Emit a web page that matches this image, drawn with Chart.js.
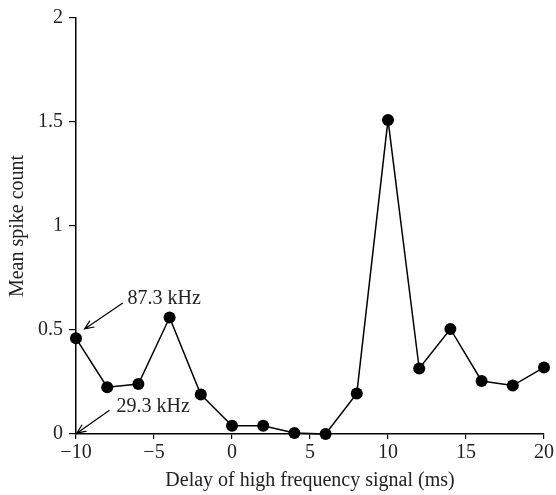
<!DOCTYPE html>
<html>
<head>
<meta charset="utf-8">
<script src="https://cdn.jsdelivr.net/npm/chart.js@4/dist/chart.umd.min.js"></script>
<style>
  html, body { margin: 0; padding: 0; background: #fff; }
  #wrap { width: 556px; height: 495px; }
</style>
</head>
<body>
<div id="wrap"><canvas id="chart" width="556" height="495"></canvas></div>
<script>
// Delay of high frequency signal (ms)
const delays = [-10, -8, -6, -4, -2, 0, 2, 4, 6, 8, 10, 12, 14, 16, 18, 20];
// Mean spike count
const spikeCounts = [0.46, 0.225, 0.24, 0.56, 0.19, 0.04, 0.04, 0.005, 0.0, 0.195, 1.51, 0.315, 0.505, 0.255, 0.233, 0.32];

// annotation labels with arrow (text pos, arrow start, arrow tip) in data units
const noteLabels = ['87.3 kHz', '29.3 kHz'];
const noteText = [[-6.7, 0.648], [-7.4, 0.129]];
const noteFrom = [[-7.0, 0.63], [-7.85, 0.114]];
const noteTo = [[-9.45, 0.505], [-9.95, 0.004]];

const FONT = "'Liberation Serif', 'DejaVu Serif', serif";
const FSIZE = 20;

const points = delays.map((d, i) => ({ x: d, y: spikeCounts[i] }));

// plugin vẽ chú thích mũi tên
const notesPlugin = {
  id: 'notes',
  afterDatasetsDraw(chart) {
    const ctx = chart.ctx;
    const xs = chart.scales.x, ys = chart.scales.y;
    ctx.save();
    ctx.font = FSIZE + 'px ' + FONT;
    ctx.fillStyle = '#222';
    ctx.strokeStyle = '#000';
    ctx.lineWidth = 1.2;
    ctx.textBaseline = 'middle';
    ctx.textAlign = 'left';
    noteLabels.forEach((label, i) => {
      ctx.fillText(label, xs.getPixelForValue(noteText[i][0]), ys.getPixelForValue(noteText[i][1]));
      const x1 = xs.getPixelForValue(noteFrom[i][0]), y1 = ys.getPixelForValue(noteFrom[i][1]);
      const x2 = xs.getPixelForValue(noteTo[i][0]), y2 = ys.getPixelForValue(noteTo[i][1]);
      ctx.beginPath();
      ctx.moveTo(x1, y1);
      ctx.lineTo(x2, y2);
      const ang = Math.atan2(y2 - y1, x2 - x1);
      const head = 10, spread = 0.4;
      ctx.moveTo(x2 - head * Math.cos(ang - spread), y2 - head * Math.sin(ang - spread));
      ctx.lineTo(x2, y2);
      ctx.lineTo(x2 - head * Math.cos(ang + spread), y2 - head * Math.sin(ang + spread));
      ctx.stroke();
    });
    ctx.restore();
  }
};

new Chart(document.getElementById('chart').getContext('2d'), {
  type: 'line',
  data: {
    datasets: [{
      data: points,
      borderColor: '#000',
      backgroundColor: '#000',
      borderWidth: 1.5,
      pointRadius: 6,
      pointBackgroundColor: '#000',
      pointBorderWidth: 0,
      tension: 0,
      clip: false
    }]
  },
  options: {
    responsive: false,
    animation: false,
    layout: { padding: { left: 0, right: 9, top: 14, bottom: 0 } },
    plugins: {
      legend: { display: false },
      tooltip: { enabled: false }
    },
    scales: {
      x: {
        type: 'linear',
        min: -10,
        max: 20,
        afterFit(scale) { scale.height = 61; },
        grid: { display: true, drawOnChartArea: false, drawTicks: true, tickLength: 5, color: '#000', lineWidth: 1.2 },
        border: { display: true, color: '#000', width: 1.5 },
        ticks: {
          stepSize: 5,
          color: '#222',
          font: { family: FONT, size: FSIZE },
          padding: 2,
          maxRotation: 0,
          callback: v => String(v).replace('-', '\u2212')
        },
        title: {
          display: true,
          text: 'Delay of high frequency signal (ms)',
          color: '#222',
          font: { family: FONT, size: FSIZE },
          padding: { top: 0, bottom: 2 }
        }
      },
      y: {
        min: 0,
        max: 2,
        afterFit(scale) { scale.width = 76; },
        grid: { display: true, drawOnChartArea: false, drawTicks: true, tickLength: 7, color: '#000', lineWidth: 1.2 },
        border: { display: true, color: '#000', width: 1.5 },
        ticks: {
          stepSize: 0.5,
          color: '#222',
          font: { family: FONT, size: FSIZE },
          padding: 6,
          callback: v => String(v)
        },
        title: {
          display: true,
          text: 'Mean spike count',
          color: '#222',
          font: { family: FONT, size: FSIZE },
          padding: { top: 6, bottom: 0 }
        }
      }
    }
  },
  plugins: [notesPlugin]
});
</script>
</body>
</html>
